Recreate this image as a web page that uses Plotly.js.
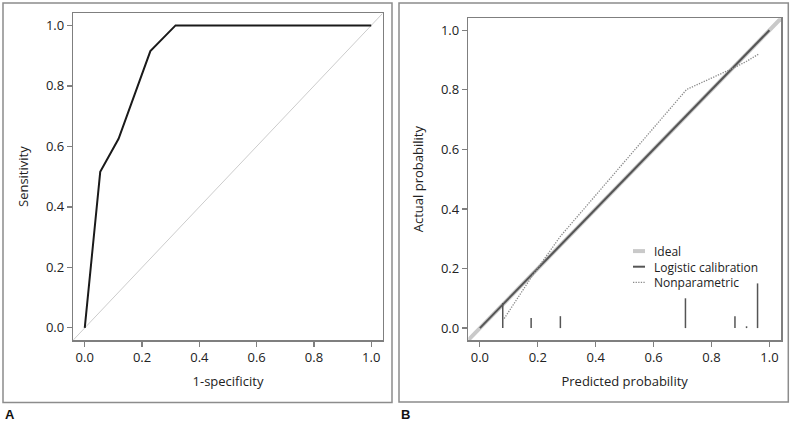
<!DOCTYPE html>
<html>
<head>
<meta charset="utf-8">
<script src="https://cdn.plot.ly/plotly-3.0.1.min.js"></script>
<style>html,body{margin:0;padding:0;background:#fff;}#chart{width:793px;height:423px;}</style>
</head>
<body>
<div id="chart"></div>
<script>
// ---- Data ----
// Panel A: ROC curve
const rocFpr = [0, 0.054, 0.118, 0.229, 0.317, 1.0];
const rocTpr = [0, 0.516, 0.625, 0.915, 1.0, 1.0];
// Panel B: calibration
const logisticX = [0, 1];
const logisticY = [0, 1];
const nonparX = [0.084, 0.18, 0.278, 0.714, 0.88, 0.92, 0.963];
const nonparY = [0.032, 0.174, 0.308, 0.801, 0.875, 0.895, 0.92];
const rugX = [0.079, 0.177, 0.278, 0.710, 0.881, 0.921, 0.959];
const rugH = [0.084, 0.034, 0.040, 0.100, 0.040, 0.006, 0.150];
const tickVals = [0, 0.2, 0.4, 0.6, 0.8, 1.0];
const legendLabels = ['Ideal', 'Logistic calibration', 'Nonparametric'];
const axisRange = [-0.04, 1.04];

// ---- helpers ----
const W = 793, H = 423;
const px = v => v / W;
const py = v => 1 - v / H;
const FONT = 'Open Sans, Noto Sans, sans-serif';
const TXT = '#222222';
const BOX = '#7f7f7f';

// rug spikes built from data
const rugLineX = [], rugLineY = [];
rugX.forEach((x, i) => { rugLineX.push(x, x, null); rugLineY.push(0, rugH[i], null); });

const styles = {
  ideal: {color: '#c9c9c9', width: 4},
  logistic: {color: '#555555', width: 2},
  nonpar: {color: '#8a8a8a', width: 1.3, dash: '1.3px,1.3px'}
};

const traces = [
  {x: axisRange, y: axisRange, xaxis: 'x', yaxis: 'y', mode: 'lines',
   line: {color: '#cccccc', width: 1}, showlegend: false, hoverinfo: 'skip'},
  {x: rocFpr, y: rocTpr, xaxis: 'x', yaxis: 'y', mode: 'lines',
   line: {color: '#1a1a1a', width: 2}, showlegend: false, name: 'ROC'},
  {x: axisRange, y: axisRange, xaxis: 'x2', yaxis: 'y2', mode: 'lines',
   line: styles.ideal, showlegend: false, name: legendLabels[0]},
  {x: logisticX, y: logisticY, xaxis: 'x2', yaxis: 'y2', mode: 'lines',
   line: styles.logistic, showlegend: false, name: legendLabels[1]},
  {x: nonparX, y: nonparY, xaxis: 'x2', yaxis: 'y2', mode: 'lines',
   line: styles.nonpar, showlegend: false, name: legendLabels[2]},
  {x: rugLineX, y: rugLineY, xaxis: 'x2', yaxis: 'y2', mode: 'lines',
   line: {color: '#555555', width: 1.5}, showlegend: false, connectgaps: false, hoverinfo: 'skip'}
];

function axisBase(domain, title, standoff) {
  return {
    domain: domain, range: axisRange, tickvals: tickVals, tickformat: '.1f',
    showline: true, mirror: true, linecolor: BOX, linewidth: 1.5,
    ticks: 'outside', ticklen: 5, tickcolor: BOX, tickwidth: 1.2,
    showgrid: false, zeroline: false, automargin: false,
    tickfont: {family: FONT, size: 13, color: TXT},
    title: {text: title, font: {family: FONT, size: 13, color: TXT}, standoff: standoff}
  };
}

const layout = {
  width: W, height: H,
  margin: {l: 0, r: 0, t: 0, b: 0},
  paper_bgcolor: '#ffffff', plot_bgcolor: '#ffffff',
  showlegend: false,
  xaxis: Object.assign(axisBase([px(73.3), px(382.7)], '1-specificity', 12), {anchor: 'y'}),
  yaxis: Object.assign(axisBase([py(340), py(13.3)], 'Sensitivity', 14), {anchor: 'x'}),
  xaxis2: Object.assign(axisBase([px(468.3), px(781)], 'Predicted probability', 12), {anchor: 'y2'}),
  yaxis2: Object.assign(axisBase([py(340), py(18.3)], 'Actual probability', 14), {anchor: 'x2'}),
  shapes: [
    {type: 'rect', xref: 'paper', yref: 'paper', x0: px(3), x1: px(392), y0: py(402.5), y1: py(3),
     line: {color: '#8c8c8c', width: 1.5}},
    {type: 'rect', xref: 'paper', yref: 'paper', x0: px(399), x1: px(788.3), y0: py(402), y1: py(3),
     line: {color: '#8c8c8c', width: 1.5}}
  ],
  annotations: [
    {text: '<b>A</b>', xref: 'paper', yref: 'paper', x: px(3), y: py(414), xanchor: 'left', yanchor: 'middle',
     showarrow: false, font: {family: 'Liberation Sans, sans-serif', size: 13, color: '#111'}},
    {text: '<b>B</b>', xref: 'paper', yref: 'paper', x: px(399), y: py(414), xanchor: 'left', yanchor: 'middle',
     showarrow: false, font: {family: 'Liberation Sans, sans-serif', size: 13, color: '#111'}}
  ]
};

// compact legend for panel B: one text block (1.3em line spacing) plus line samples
const LEG_FONT = 12;
const legCenter = 266.7;
const legStep = LEG_FONT * 1.3;
const legStyles = [styles.ideal, styles.logistic, styles.nonpar];
legendLabels.forEach((lab, i) => {
  const s = legStyles[i];
  const yRow = legCenter + (i - 1) * legStep;
  layout.shapes.push({type: 'line', xref: 'paper', yref: 'paper', x0: px(633), x1: px(645),
    y0: py(yRow), y1: py(yRow), line: {color: s.color, width: s.width, dash: s.dash || 'solid'}});
});
layout.annotations.push({text: legendLabels.join('<br>'), xref: 'paper', yref: 'paper',
  x: px(651.5), y: py(legCenter), xanchor: 'left', yanchor: 'middle', align: 'left',
  showarrow: false, font: {family: FONT, size: LEG_FONT, color: TXT}});

Plotly.newPlot('chart', traces, layout, {displayModeBar: false, staticPlot: true});
</script>
</body>
</html>
